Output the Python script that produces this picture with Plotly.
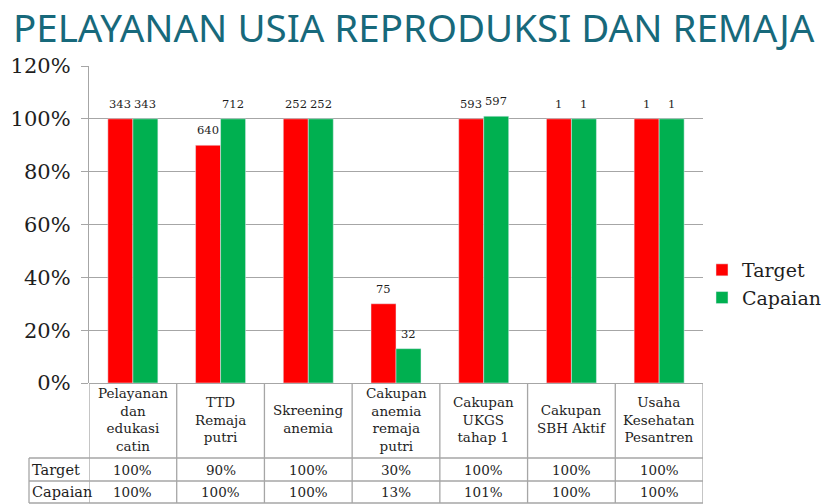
import plotly.graph_objects as go

categories = ["Pelayanan<br>dan<br>edukasi<br>catin", "TTD<br>Remaja<br>putri", "Skreening<br>anemia",
              "Cakupan<br>anemia<br>remaja<br>putri", "Cakupan<br>UKGS<br>tahap 1", "Cakupan<br>SBH Aktif",
              "Usaha<br>Kesehatan<br>Pesantren"]
target_pct = [100, 90, 100, 30, 100, 100, 100]
capaian_pct = [100, 100, 100, 13, 101, 100, 100]
target_count = [343, 640, 252, 75, 593, 1, 1]
capaian_count = [343, 712, 252, 32, 597, 1, 1]
y_ticks = [0, 20, 40, 60, 80, 100, 120]

SERIF = "DejaVu Serif, Liberation Serif, serif"
RED = "#FF0000"
GREEN = "#00B050"
GRID = "#A6A6A6"
TXT = "#1e1e1e"

# page has an 8px body margin: figure drawn at (8, 8) in the window
OFF = 8
W, HT = 830 - OFF, 504 - OFF

x_idx = list(range(len(categories)))
BARGAP = 0.43
half = (1 - BARGAP) / 4

fig = go.Figure()
fig.add_trace(go.Bar(name="Target", x=x_idx, y=target_pct, marker_color=RED))
fig.add_trace(go.Bar(name="Capaian", x=x_idx, y=capaian_pct, marker_color=GREEN))

# plot area in window pixels: x 89..703, y 66..383
PL, PR, PT, PB = 89, 703, 66, 383
H = PB - PT
def py(pix):
    return (PB - pix) / H
def px(pix):
    return (pix - PL) / (PR - PL)
def cx(pix):
    return (pix - OFF) / W
def cy(pix):
    return 1 - (pix - OFF) / HT

LEFT = px(29)

shapes = []
for i in range(len(categories) + 1):
    shapes.append(dict(type="line", xref="x", yref="paper", x0=i - 0.5, x1=i - 0.5,
                       y0=0, y1=py(503), line=dict(color=GRID, width=1.3)))
for r in [458, 481, 503]:
    shapes.append(dict(type="line", xref="paper", yref="paper", x0=LEFT, x1=1,
                       y0=py(r), y1=py(r), line=dict(color=GRID, width=1.3)))
shapes.append(dict(type="line", xref="paper", yref="paper", x0=LEFT, x1=LEFT,
                   y0=py(458), y1=py(503), line=dict(color=GRID, width=1.3)))

annotations = []
lab_font = dict(family=SERIF, size=11.5, color=TXT)
cell_font = dict(family=SERIF, size=13.5, color=TXT)
for i, c in enumerate(categories):
    annotations.append(dict(x=i - half, y=target_pct[i], xref="x", yref="y", text=str(target_count[i]),
                            showarrow=False, yanchor="bottom", yshift=6, font=lab_font))
    annotations.append(dict(x=i + half, y=capaian_pct[i], xref="x", yref="y", text=str(capaian_count[i]),
                            showarrow=False, yanchor="bottom", yshift=6, font=lab_font))
    annotations.append(dict(x=i, y=py(419), xref="x", yref="paper", text=c, showarrow=False,
                            font=cell_font, align="center", xanchor="center", yanchor="middle"))
    annotations.append(dict(x=i, y=py(469.5), xref="x", yref="paper", text=f"{target_pct[i]}%",
                            showarrow=False, xanchor="center", yanchor="middle", font=cell_font))
    annotations.append(dict(x=i, y=py(492), xref="x", yref="paper", text=f"{capaian_pct[i]}%",
                            showarrow=False, xanchor="center", yanchor="middle", font=cell_font))
for lbl, ypix in [("Target", 469.5), ("Capaian", 492)]:
    annotations.append(dict(x=LEFT, y=py(ypix), xref="paper", yref="paper", text=lbl,
                            showarrow=False, xanchor="left", yanchor="middle", xshift=1,
                            font=dict(family=SERIF, size=14.5, color=TXT)))

fig.update_layout(
    width=W, height=HT,
    margin=dict(l=PL - OFF, r=830 - PR, t=PT - OFF, b=504 - PB, autoexpand=False),
    paper_bgcolor="white", plot_bgcolor="white",
    barmode="group", bargap=BARGAP, bargroupgap=0,
    title=dict(text="PELAYANAN USIA REPRODUKSI DAN REMAJA", x=cx(13), xanchor="left",
               y=cy(29), yanchor="middle", xref="container", yref="container",
               font=dict(family="Noto Sans, Open Sans, sans-serif", size=38.5, color="#17697B")),
    xaxis=dict(range=[-0.5, len(categories) - 0.5], showticklabels=False, showgrid=False,
               zeroline=False, showline=False, ticks=""),
    yaxis=dict(range=[0, 120], tickvals=y_ticks, ticktext=[f"{v}%" for v in y_ticks],
               showgrid=True, gridcolor=GRID, gridwidth=1.3, showline=True, linecolor=GRID,
               linewidth=1.3, ticks="outside", ticklen=7, tickcolor=GRID, zeroline=True,
               zerolinecolor=GRID, zerolinewidth=1.3, ticklabelstandoff=6,
               tickfont=dict(family=SERIF, size=21, color=TXT)),
    legend=dict(x=px(702), y=py(284), xref="paper", yref="paper",
                xanchor="left", yanchor="middle",
                font=dict(family=SERIF, size=19, color=TXT), bgcolor="rgba(0,0,0,0)",
                itemwidth=30),
    shapes=shapes, annotations=annotations,
    showlegend=True,
)

fig.write_html("out.html")
